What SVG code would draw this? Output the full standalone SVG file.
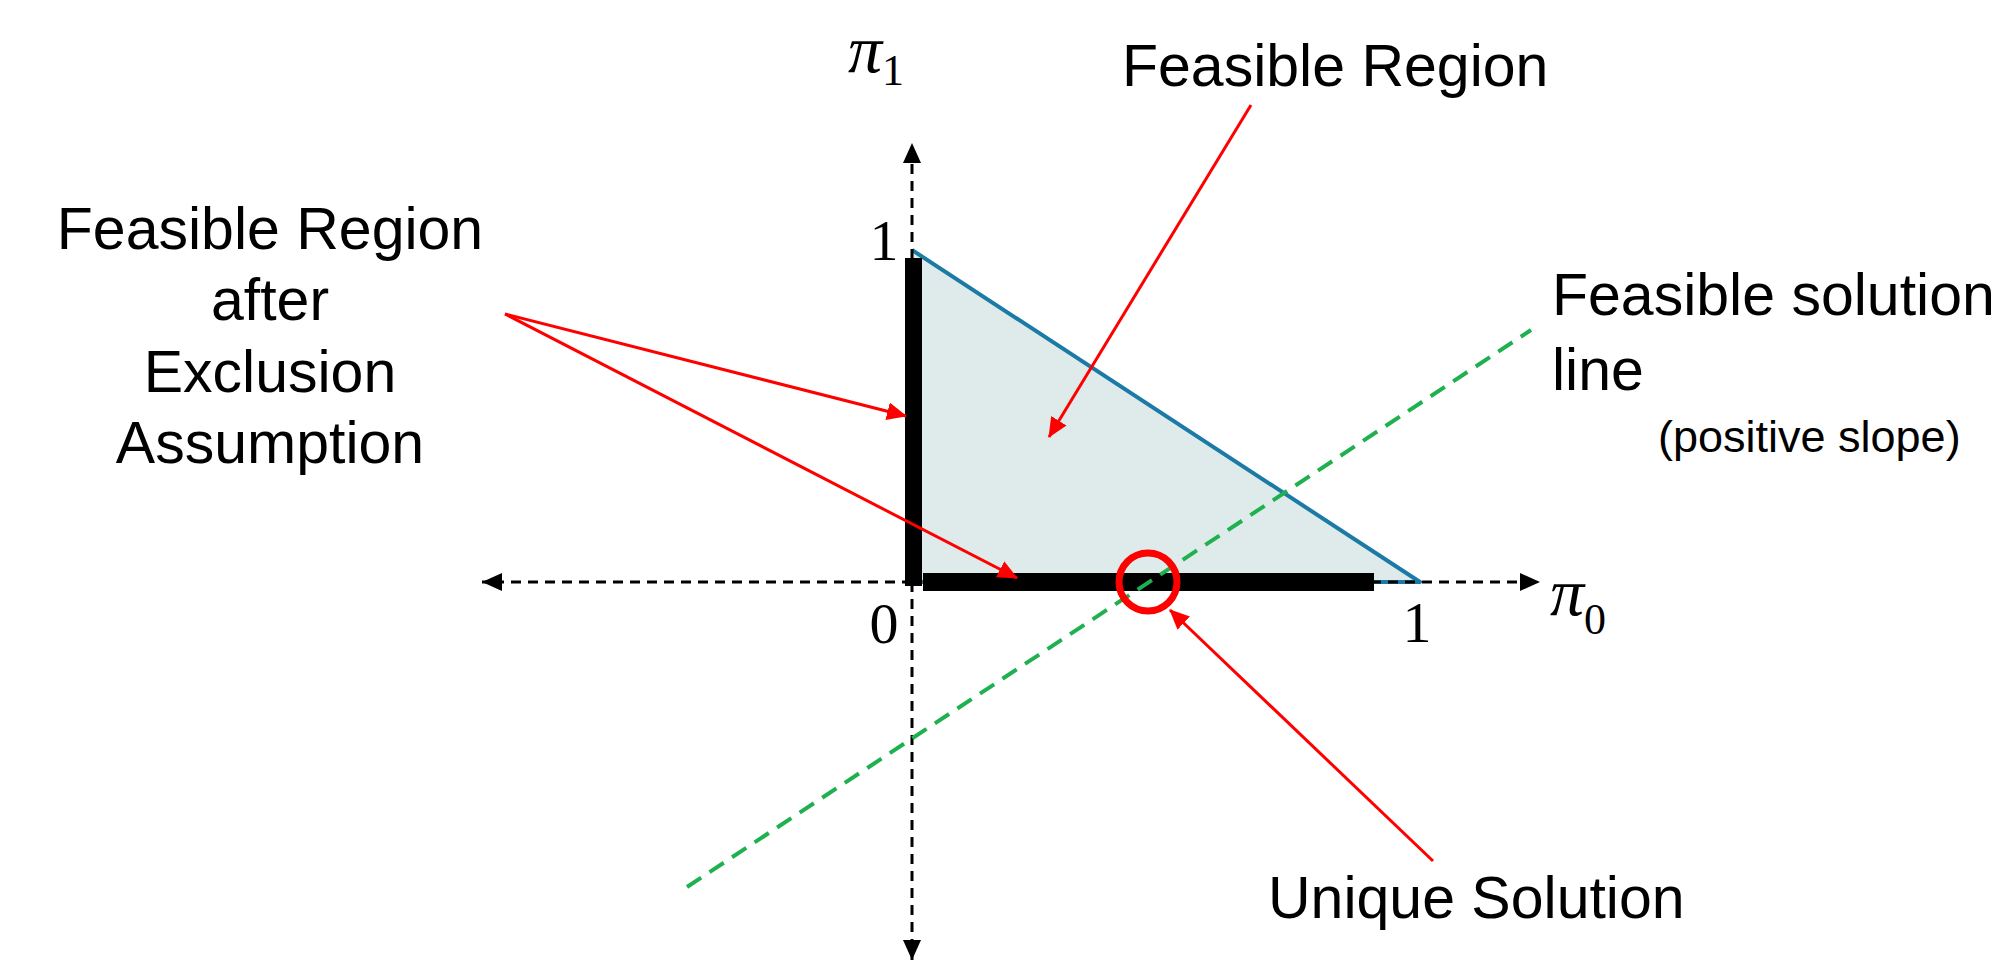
<svg xmlns="http://www.w3.org/2000/svg" width="2006" height="966" viewBox="0 0 2006 966">
  <defs>
    <marker id="axisHead" markerWidth="20" markerHeight="18" refX="20" refY="9" orient="auto" markerUnits="userSpaceOnUse">
      <path d="M0,0 L20,9 L0,18 Z" fill="#000"/>
    </marker>
    <marker id="redHead" markerWidth="20" markerHeight="18" refX="19" refY="9" orient="auto" markerUnits="userSpaceOnUse">
      <path d="M0,0 L20,9 L0,18 Z" fill="#ff0000"/>
    </marker>
  </defs>
  <style>
    .lbl { font-family: "Liberation Sans", Arial, sans-serif; font-size: 59px; fill: #000; }
    .small { font-family: "Liberation Sans", Arial, sans-serif; font-size: 45px; fill: #000; }
    .num { font-family: "Liberation Serif", "Times New Roman", serif; font-size: 58px; fill: #000; }
    .pi { font-family: "Liberation Serif", "Times New Roman", serif; font-style: italic; font-size: 68px; fill: #000; }
    .sub { font-family: "Liberation Serif", "Times New Roman", serif; font-size: 44px; fill: #000; }
    .axis { stroke: #000; stroke-width: 3; stroke-dasharray: 10 7; fill: none; }
    .red { stroke: #ff0000; stroke-width: 3; fill: none; }
  </style>

  <g id="region">
    <polygon points="912,250 912,582 1420,582" fill="#deebea" stroke="none"/>
    <polyline points="912,250 1420,582 912,582" fill="none" stroke="#1b7aa6" stroke-width="4" stroke-linejoin="round"/>
  </g>

  <g id="axes">
    <line class="axis" x1="912" y1="582" x2="912" y2="143" marker-end="url(#axisHead)"/>
    <line class="axis" x1="912" y1="582" x2="912" y2="960" marker-end="url(#axisHead)"/>
    <line class="axis" x1="912" y1="582" x2="1540" y2="582" marker-end="url(#axisHead)"/>
    <line class="axis" x1="912" y1="582" x2="482" y2="582" marker-end="url(#axisHead)"/>
  </g>

  <g id="exclusion-bars">
    <rect x="905" y="258" width="17" height="328" fill="#000"/>
    <rect x="923" y="573" width="451" height="18" fill="#000"/>
  </g>

  <g id="feasible-line">
    <line x1="687" y1="887" x2="1531" y2="330" stroke="#1fb04f" stroke-width="4" stroke-dasharray="17 10"/>
  </g>

  <g id="unique-solution-marker">
    <circle cx="1148" cy="582" r="29" fill="none" stroke="#ff0000" stroke-width="7"/>
  </g>

  <g id="connectors">
    <line class="red" x1="505" y1="314" x2="906" y2="416" marker-end="url(#redHead)"/>
    <line class="red" x1="505" y1="314" x2="1017" y2="578" marker-end="url(#redHead)"/>
    <line class="red" x1="1251" y1="105" x2="1049" y2="437" marker-end="url(#redHead)"/>
    <line class="red" x1="1433" y1="861" x2="1170" y2="610" marker-end="url(#redHead)"/>
  </g>

  <g id="axis-labels">
    <text class="pi" x="848" y="72">π</text>
    <text class="sub" x="882" y="85">1</text>
    <text class="pi" x="1550" y="615">π</text>
    <text class="sub" x="1584" y="634">0</text>
    <text class="num" x="884" y="260" text-anchor="middle">1</text>
    <text class="num" x="884" y="643" text-anchor="middle">0</text>
    <text class="num" x="1417" y="642" text-anchor="middle">1</text>
  </g>

  <g id="label-feasible-region">
    <text class="lbl" x="1122" y="86">Feasible Region</text>
  </g>

  <g id="label-after-exclusion">
    <text class="lbl" x="270" y="249" text-anchor="middle">Feasible Region</text>
    <text class="lbl" x="270" y="320" text-anchor="middle">after</text>
    <text class="lbl" x="270" y="392" text-anchor="middle">Exclusion</text>
    <text class="lbl" x="270" y="463" text-anchor="middle">Assumption</text>
  </g>

  <g id="label-feasible-solution-line">
    <text class="lbl" x="1552" y="315">Feasible solution</text>
    <text class="lbl" x="1552" y="390">line</text>
    <text class="small" x="1658" y="452">(positive slope)</text>
  </g>

  <g id="label-unique-solution">
    <text class="lbl" x="1268" y="918">Unique Solution</text>
  </g>
</svg>
